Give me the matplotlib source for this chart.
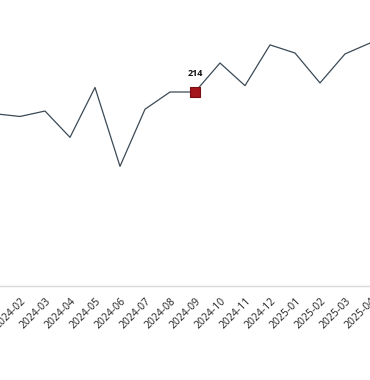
import matplotlib
matplotlib.use("Agg")
import matplotlib.pyplot as plt

# ── Données ────────────────────────────────────────────────────────────────────
months = [
    "2024-01", "2024-02", "2024-03", "2024-04", "2024-05", "2024-06",
    "2024-07", "2024-08", "2024-09", "2024-10", "2024-11", "2024-12",
    "2025-01", "2025-02", "2025-03", "2025-04", "2025-05",
]
values = [
    190, 187, 193, 164, 219, 132, 195, 214, 214, 246, 221, 266,
    257, 224, 256, 268, 272,
]
highlight_month = "2024-09"

LINE_COLOR = "#3b4a56"
MARK_COLOR = "#a3141b"

plt.rcParams["font.family"] = ["Open Sans", "DejaVu Sans"]

fig = plt.figure(figsize=(3.7, 3.8), dpi=100)
# axes volontairement plus larges que la figure (vue recadrée)
ax = fig.add_axes([0, 0.2474, 1, 0.7526])

x = list(range(len(months)))
ax.plot(x, values, color=LINE_COLOR, linewidth=0.9)

hi = months.index(highlight_month)
ax.plot([hi], [values[hi]], marker="s", markersize=7.5,
        markerfacecolor=MARK_COLOR, markeredgecolor="#7a0d12",
        markeredgewidth=0.8, linestyle="none")
ax.annotate(f"{values[hi]}", (hi, values[hi]), xytext=(0, 10),
            textcoords="offset points", ha="center", va="bottom",
            fontsize=6.5, fontweight="bold", color="#111111")

ax.set_xticks(x)
ax.set_xticklabels(months, rotation=45, ha="right", rotation_mode="anchor",
                   fontsize=7.5, color="#222222")
ax.tick_params(axis="x", length=0, pad=7)
ax.set_yticks([])
# limites après set_xticks (sinon élargies)
ax.set_xlim(0.2, 15.0)
ax.set_ylim(0, 315.5)

for side in ("top", "left", "right"):
    ax.spines[side].set_visible(False)
ax.spines["bottom"].set_color("#d9d9d9")
ax.spines["bottom"].set_linewidth(1.0)

fig.savefig("out.png", dpi=100)
